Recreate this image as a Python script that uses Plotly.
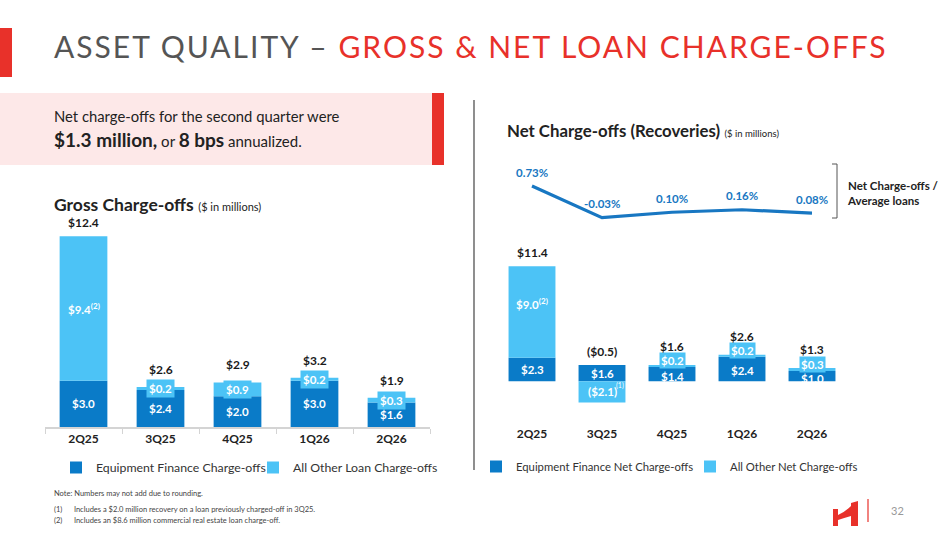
import plotly.graph_objects as go

W, H = 949, 534
def px(x): return x / W
def py(y): return 1 - y / H

quarters = ["2Q25", "3Q25", "4Q25", "1Q26", "2Q26"]

gross_equip = [3.0, 2.4, 2.0, 3.0, 1.6]
gross_other = [9.4, 0.2, 0.9, 0.2, 0.3]
gross_total = [12.4, 2.6, 2.9, 3.2, 1.9]
gross_other_labels = ["$9.4<sup>(2)</sup>", "$0.2", "$0.9", "$0.2", "$0.3"]

net_equip = [2.3, 1.6, 1.4, 2.4, 1.0]
net_other = [9.0, -2.1, 0.2, 0.2, 0.3]
net_total = [11.4, -0.5, 1.6, 2.6, 1.3]
net_other_labels = ["$9.0<sup>(2)</sup>", "($2.1)", "$0.2", "$0.2", "$0.3"]
net_total_labels = ["$11.4", "($0.5)", "$1.6", "$2.6", "$1.3"]

nco_ratio = [0.73, -0.03, 0.10, 0.16, 0.08]
nco_ratio_labels = ["0.73%", "-0.03%", "0.10%", "0.16%", "0.08%"]

DARK = "#0a7bc8"
LIGHT = "#4cc3f6"
LINE = "#1877c2"
RED = "#e8312a"
FONT = "Lato, sans-serif"

fig = go.Figure()

# Left: gross charge-offs
fig.add_trace(go.Bar(x=quarters, y=gross_equip, name="Equipment Finance Charge-offs",
                     marker=dict(color=DARK, line=dict(width=0)), width=0.62,
                     xaxis="x", yaxis="y", legend="legend"))
fig.add_trace(go.Bar(x=quarters, y=gross_other, name="All Other Loan Charge-offs",
                     marker=dict(color=LIGHT, line=dict(width=0)), width=0.62,
                     xaxis="x", yaxis="y", legend="legend"))

# Right: net charge-offs
fig.add_trace(go.Bar(x=quarters, y=net_equip, name="Equipment Finance Net Charge-offs",
                     marker=dict(color=DARK, line=dict(width=0)), width=0.67,
                     xaxis="x2", yaxis="y2", legend="legend2"))
fig.add_trace(go.Bar(x=quarters, y=net_other, name="All Other Net Charge-offs",
                     marker=dict(color=LIGHT, line=dict(width=0)), width=0.67,
                     xaxis="x2", yaxis="y2", legend="legend2"))

# Ratio line
fig.add_trace(go.Scatter(x=quarters, y=nco_ratio, mode="lines",
                         line=dict(color=LINE, width=3.2), showlegend=False,
                         xaxis="x3", yaxis="y3", hoverinfo="skip"))

ann = []
lab_font = dict(family=FONT, size=11.5, color="white")
tot_font = dict(family=FONT, size=12, color="#1a1a1a")

# Left chart labels
for i, q in enumerate(quarters):
    e, o = gross_equip[i], gross_other[i]
    ann.append(dict(x=q, y=e / 2, xref="x", yref="y", text=f"<b>${e:.1f}</b>",
                    showarrow=False, font=lab_font))
    small = o < 1.5
    ann.append(dict(x=q, y=e + o / 2, xref="x", yref="y", text=f"<b>{gross_other_labels[i]}</b>",
                    showarrow=False, font=lab_font,
                    bgcolor=LIGHT if small else None, borderpad=2))
    ann.append(dict(x=q, y=gross_total[i], xref="x", yref="y", text=f"<b>${gross_total[i]:.1f}</b>",
                    showarrow=False, font=tot_font, yanchor="bottom", yshift=8 if small else 4))

# Right chart labels
for i, q in enumerate(quarters):
    e, o = net_equip[i], net_other[i]
    small = abs(o) < 1.5
    ann.append(dict(x=q, y=e / 2, xref="x2", yref="y2", text=f"<b>${e:.1f}</b>",
                    showarrow=False, font=lab_font, yshift=-2 if small and o > 0 else 0))
    ann.append(dict(x=q, y=(e + o / 2) if o > 0 else o / 2, xref="x2", yref="y2",
                    text=f"<b>{net_other_labels[i]}</b>",
                    showarrow=False, font=lab_font,
                    bgcolor=LIGHT if small else None, borderpad=1,
                    yshift=5 if small and o > 0 else (8 if o > 5 else 0)))
    top = e + max(o, 0)
    ann.append(dict(x=q, y=top, xref="x2", yref="y2", text=f"<b>{net_total_labels[i]}</b>",
                    showarrow=False, font=tot_font, yanchor="bottom", yshift=9 if small and o > 0 else 4))
ann.append(dict(x="3Q25", y=-0.4, xref="x2", yref="y2", text="(1)", showarrow=False,
                font=dict(family=FONT, size=7, color="white"), xshift=18))

# Ratio labels
for i, q in enumerate(quarters):
    ann.append(dict(x=q, y=nco_ratio[i], xref="x3", yref="y3", text=f"<b>{nco_ratio_labels[i]}</b>",
                    showarrow=False, font=dict(family=FONT, size=11.5, color=LINE), yshift=14))

# Text blocks
ann += [
    dict(x=px(52), y=py(46), xref="paper", yref="paper", xanchor="left", yanchor="middle",
         text=f"<span style='letter-spacing:2px'>ASSET QUALITY – <span style='color:{RED}'>GROSS &amp; NET LOAN CHARGE-OFFS</span></span>",
         showarrow=False, font=dict(family=FONT, size=30, color="#555555")),
    dict(x=px(52), y=py(116), xref="paper", yref="paper", xanchor="left", yanchor="middle",
         text="Net charge-offs for the second quarter were", showarrow=False,
         font=dict(family=FONT, size=14.8, color="#222222")),
    dict(x=px(52), y=py(139), xref="paper", yref="paper", xanchor="left", yanchor="middle",
         text="<span style='font-size:19px'><b>$1.3 million,</b></span> or <span style='font-size:19px'><b>8 bps</b></span> annualized.",
         showarrow=False, font=dict(family=FONT, size=15, color="#222222")),
    dict(x=px(52), y=py(205), xref="paper", yref="paper", xanchor="left", yanchor="middle",
         text="<b>Gross Charge-offs</b> <span style='font-size:11px'>($ in millions)</span>", showarrow=False,
         font=dict(family=FONT, size=17.5, color="#222222")),
    dict(x=px(505), y=py(130), xref="paper", yref="paper", xanchor="left", yanchor="middle",
         text="<b>Net Charge-offs (Recoveries)</b> <span style='font-size:9.5px'>($ in millions)</span>", showarrow=False,
         font=dict(family=FONT, size=16.8, color="#222222")),
    dict(x=px(845), y=py(193), xref="paper", yref="paper", xanchor="left", yanchor="middle",
         text="<b>Net Charge-offs /<br>Average loans</b>", showarrow=False, align="left",
         font=dict(family=FONT, size=11.5, color="#222222")),
    dict(x=px(52), y=py(493), xref="paper", yref="paper", xanchor="left", yanchor="middle",
         text="Note: Numbers may not add due to rounding.", showarrow=False,
         font=dict(family=FONT, size=7.5, color="#444444")),
    dict(x=px(52), y=py(509), xref="paper", yref="paper", xanchor="left", yanchor="middle",
         text="(1)      Includes a $2.0 million recovery on a loan previously charged-off in 3Q25.", showarrow=False,
         font=dict(family=FONT, size=7.5, color="#444444")),
    dict(x=px(52), y=py(520), xref="paper", yref="paper", xanchor="left", yanchor="middle",
         text="(2)      Includes an $8.6 million commercial real estate loan charge-off.", showarrow=False,
         font=dict(family=FONT, size=7.5, color="#444444")),
    dict(x=px(897), y=py(510), xref="paper", yref="paper", xanchor="center", yanchor="middle",
         text="32", showarrow=False, font=dict(family=FONT, size=11, color="#999999")),
]

shapes = [
    dict(type="rect", xref="paper", yref="paper", x0=px(0), x1=px(12), y0=py(77), y1=py(28),
         fillcolor=RED, line=dict(width=0)),
    dict(type="rect", xref="paper", yref="paper", x0=px(0), x1=px(440), y0=py(165), y1=py(93),
         fillcolor="#fde8e8", line=dict(width=0), layer="below"),
    dict(type="rect", xref="paper", yref="paper", x0=px(432), x1=px(444), y0=py(165), y1=py(93),
         fillcolor=RED, line=dict(width=0), layer="below"),
    dict(type="line", xref="paper", yref="paper", x0=px(474), x1=px(474), y0=py(100), y1=py(470),
         line=dict(color="#444444", width=1.2)),
    dict(type="line", xref="paper", yref="paper", x0=px(837), x1=px(837), y0=py(164), y1=py(218),
         line=dict(color="#555555", width=1)),
    dict(type="line", xref="paper", yref="paper", x0=px(832), x1=px(837), y0=py(164), y1=py(164),
         line=dict(color="#555555", width=1)),
    dict(type="line", xref="paper", yref="paper", x0=px(832), x1=px(837), y0=py(218), y1=py(218),
         line=dict(color="#555555", width=1)),
    dict(type="path", xref="paper", yref="paper",
         path=(f"M {px(833)},{py(509)} L {px(838)},{py(509)} L {px(838)},{py(515)} "
               f"Q {px(845)},{py(512)} {px(851)},{py(506)} L {px(851)},{py(503)} L {px(858)},{py(501)} "
               f"L {px(858)},{py(526)} L {px(851)},{py(526)} L {px(851)},{py(516)} "
               f"Q {px(844)},{py(518)} {px(838)},{py(520)} L {px(838)},{py(526)} L {px(833)},{py(526)} Z"),
         fillcolor=RED, line=dict(width=0)),
    dict(type="line", xref="paper", yref="paper", x0=px(868), x1=px(868), y0=py(499), y1=py(522),
         line=dict(color=RED, width=1.2)),
]

axis_common = dict(type="category", categoryarray=quarters, range=[-0.5, 4.5], fixedrange=True)
tickfont = dict(family=FONT, size=12, color="#222222", weight="bold")

fig.update_layout(
    width=W, height=H, margin=dict(l=0, r=0, t=0, b=0),
    paper_bgcolor="white", plot_bgcolor="rgba(0,0,0,0)",
    barmode="relative", bargap=0.3,
    font=dict(family=FONT, color="#222222"),
    annotations=ann, shapes=shapes,
    xaxis=dict(**axis_common, domain=[px(45), px(430)], anchor="y",
               showline=True, linecolor="#d4d4d4", linewidth=1.5,
               ticks="outside", tickson="boundaries", ticklen=5, tickcolor="#d4d4d4",
               tickfont=tickfont, showgrid=False),
    yaxis=dict(domain=[py(427), py(227)], range=[0, 13], visible=False, fixedrange=True),
    xaxis2=dict(**axis_common, domain=[px(497), px(847)], anchor="y2",
                showline=False, ticks="", tickfont=tickfont, showgrid=False),
    yaxis2=dict(domain=[py(425), py(259)], range=[-4.3, 12], visible=False, fixedrange=True),
    xaxis4=dict(**axis_common, domain=[px(497), px(847)], anchor="free", overlaying="x2",
                position=py(381), showline=True, linecolor="#d4d4d4", linewidth=1.5,
                ticks="outside", tickson="boundaries", ticklen=5, tickcolor="#d4d4d4",
                showticklabels=False, showgrid=False),
    xaxis3=dict(**axis_common, domain=[px(497), px(847)], anchor="y3", visible=False),
    yaxis3=dict(domain=[py(220.6), py(183.1)], range=[-0.1, 0.8], visible=False, fixedrange=True),
    legend=dict(orientation="h", x=px(56), y=py(453), xanchor="left", yanchor="top",
                font=dict(family=FONT, size=12.3, color="#333333"), bgcolor="rgba(0,0,0,0)",
                traceorder="normal", itemwidth=30, entrywidth=152),
    legend2=dict(orientation="h", x=px(476), y=py(452), xanchor="left", yanchor="top",
                 font=dict(family=FONT, size=11.3, color="#333333"), bgcolor="rgba(0,0,0,0)",
                 traceorder="normal", itemwidth=30, entrywidth=169),
    showlegend=True,
)

fig.write_html("out.html", config={"displayModeBar": False},
               post_script="document.body.style.margin='0';")
